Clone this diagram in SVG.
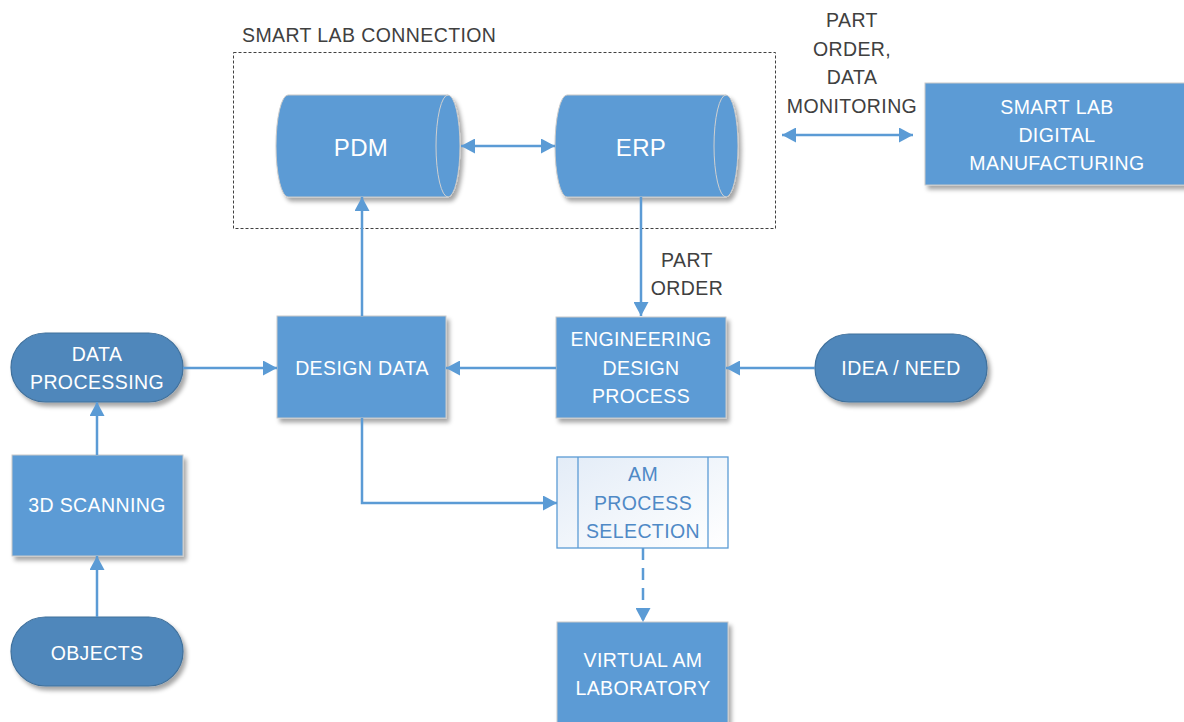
<svg xmlns="http://www.w3.org/2000/svg" width="1184" height="722" viewBox="0 0 1184 722">
  <defs>
    <filter id="shadow" x="-10%" y="-10%" width="130%" height="140%">
      <feDropShadow dx="3" dy="4" stdDeviation="2.2" flood-color="#000" flood-opacity="0.35"/>
    </filter>
    <linearGradient id="amFill" x1="0" y1="0" x2="1" y2="1">
      <stop offset="0" stop-color="#e3ecf7"/>
      <stop offset="1" stop-color="#ffffff"/>
    </linearGradient>
    <marker id="arrow" viewBox="0 0 14 15" refX="14" refY="7.5" markerWidth="14" markerHeight="15" markerUnits="userSpaceOnUse" orient="auto-start-reverse">
      <path d="M0,0 L14,7.5 L0,15 Z" fill="#5b9bd5"/>
    </marker>
  </defs>
  <style>
    .box { fill: #5b9bd5; stroke: #c9c9c9; stroke-width: 1; filter: url(#shadow); }
    .pill { fill: #4f87bb; stroke: #41719c; stroke-width: 1.2; filter: url(#shadow); }
    .cyl { fill: #5b9bd5; stroke: #c9c9c9; stroke-width: 1; filter: url(#shadow); }
    .cap { fill: none; stroke: #d0d0d0; stroke-width: 1; }
    .lbl { font-family: "Liberation Sans", Arial, sans-serif; font-size: 19.5px; fill: #ffffff; text-anchor: middle; letter-spacing: 0.4px; }
    .big { font-size: 24px; }
    .note { font-family: "Liberation Sans", Arial, sans-serif; font-size: 19.5px; fill: #404040; text-anchor: middle; letter-spacing: 0.4px; }
    .conn { fill: none; stroke: #5b9bd5; stroke-width: 2.5; }
  </style>

  <!-- container -->
  <g id="smart-lab-connection">
    <rect x="233.5" y="52.5" width="542" height="176" fill="none" stroke="#404040" stroke-width="1" stroke-dasharray="3,2"/>
    <text x="242" y="42" class="note" style="text-anchor:start">SMART LAB CONNECTION</text>
  </g>

  <g id="pdm">
    <path class="cyl" d="M288,95 H448 A12,51 0 0 1 448,197 H288 A12,51 0 0 1 288,95 Z"/>
    <path class="cap" d="M448,95 A12,51 0 0 0 448,197"/>
    <text x="361" y="156" class="lbl big">PDM</text>
  </g>

  <g id="erp">
    <path class="cyl" d="M567,95 H726 A12,51 0 0 1 726,197 H567 A12,51 0 0 1 567,95 Z"/>
    <path class="cap" d="M726,95 A12,51 0 0 0 726,197"/>
    <text x="641" y="156" class="lbl big">ERP</text>
  </g>

  <g id="smart-lab-digital-manufacturing">
    <rect class="box" x="925" y="83" width="265" height="102"/>
    <text x="1057" y="114" class="lbl">SMART LAB</text>
    <text x="1057" y="142" class="lbl">DIGITAL</text>
    <text x="1057" y="170" class="lbl">MANUFACTURING</text>
  </g>

  <g id="design-data">
    <rect class="box" x="277" y="316" width="169" height="102"/>
    <text x="362" y="375" class="lbl">DESIGN DATA</text>
  </g>

  <g id="engineering-design-process">
    <rect class="box" x="556" y="317" width="170" height="101"/>
    <text x="641" y="346" class="lbl">ENGINEERING</text>
    <text x="641" y="375" class="lbl">DESIGN</text>
    <text x="641" y="403" class="lbl">PROCESS</text>
  </g>

  <g id="idea-need">
    <rect class="pill" x="815" y="334" width="172" height="68" rx="34" ry="34"/>
    <text x="901" y="375" class="lbl">IDEA / NEED</text>
  </g>

  <g id="data-processing">
    <rect class="pill" x="11" y="333" width="172" height="69" rx="34.5" ry="34.5"/>
    <text x="97" y="361" class="lbl">DATA</text>
    <text x="97" y="389" class="lbl">PROCESSING</text>
  </g>

  <g id="scanning">
    <rect class="box" x="12" y="455" width="171" height="101"/>
    <text x="97" y="512" class="lbl">3D SCANNING</text>
  </g>

  <g id="objects">
    <rect class="pill" x="11" y="617" width="172" height="69" rx="34.5" ry="34.5"/>
    <text x="97" y="660" class="lbl">OBJECTS</text>
  </g>

  <g id="am-process-selection">
    <rect x="557" y="457" width="171" height="91" fill="url(#amFill)" stroke="#5b9bd5" stroke-width="1.3"/>
    <line x1="578" y1="457" x2="578" y2="548" stroke="#5b9bd5" stroke-width="1.3"/>
    <line x1="708" y1="457" x2="708" y2="548" stroke="#5b9bd5" stroke-width="1.3"/>
    <text x="643" y="481" class="lbl" style="fill:#4f89c6">AM</text>
    <text x="643" y="510" class="lbl" style="fill:#4f89c6">PROCESS</text>
    <text x="643" y="538" class="lbl" style="fill:#4f89c6">SELECTION</text>
  </g>

  <g id="virtual-am-laboratory">
    <rect class="box" x="557" y="622" width="171" height="110"/>
    <text x="643" y="667" class="lbl">VIRTUAL AM</text>
    <text x="643" y="695" class="lbl">LABORATORY</text>
  </g>

  <!-- connector labels -->
  <g id="labels">
    <text x="687" y="267" class="note">PART</text>
    <text x="687" y="295" class="note">ORDER</text>
    <text x="852" y="27" class="note">PART</text>
    <text x="852" y="56" class="note">ORDER,</text>
    <text x="852" y="84" class="note">DATA</text>
    <text x="852" y="113" class="note">MONITORING</text>
  </g>

  <!-- connectors -->
  <g id="connectors">
    <path class="conn" d="M461,146 H555" marker-start="url(#arrow)" marker-end="url(#arrow)"/>
    <path class="conn" d="M782,135 H913" marker-start="url(#arrow)" marker-end="url(#arrow)"/>
    <path class="conn" d="M641,197 V316" marker-end="url(#arrow)"/>
    <path class="conn" d="M362,316 V197" marker-end="url(#arrow)"/>
    <path class="conn" d="M183,368 H277" marker-end="url(#arrow)"/>
    <path class="conn" d="M556,368 H446" marker-end="url(#arrow)"/>
    <path class="conn" d="M815,368 H726" marker-end="url(#arrow)"/>
    <path class="conn" d="M97,455 V402" marker-end="url(#arrow)"/>
    <path class="conn" d="M97,617 V556" marker-end="url(#arrow)"/>
    <path class="conn" d="M362,418 V503 H557" marker-end="url(#arrow)"/>
    <path class="conn" d="M643,548 V622" stroke-dasharray="12,8" marker-end="url(#arrow)"/>
  </g>
</svg>
